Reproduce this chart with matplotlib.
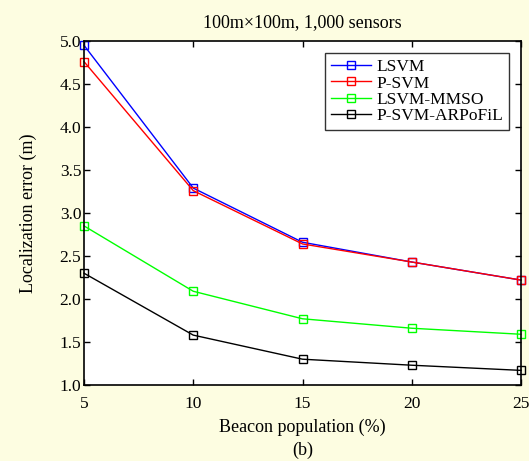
import matplotlib
matplotlib.use('Agg')
import matplotlib.pyplot as plt

plt.rcParams['font.family'] = ['Liberation Serif', 'DejaVu Serif']

beacon = [5, 10, 15, 20, 25]
lsvm = [4.95, 3.29, 2.66, 2.43, 2.22]
psvm = [4.76, 3.26, 2.64, 2.43, 2.22]
lsvm_mmso = [2.85, 2.09, 1.77, 1.66, 1.59]
psvm_arpofil = [2.30, 1.58, 1.30, 1.23, 1.17]

labels = ['LSVM', 'P-SVM', 'LSVM-MMSO', 'P-SVM-ARPoFiL']
colors = ['#0000ff', '#ff0000', '#00ff00', '#000000']
series = [lsvm, psvm, lsvm_mmso, psvm_arpofil]

bg = '#fdfde1'
fig = plt.figure(figsize=(5.29, 4.61), dpi=100, facecolor=bg)
ax = fig.add_axes([84/529, 1 - 385/461, (521 - 84)/529, (385 - 41)/461])

for vals, c, lab in zip(series, colors, labels):
    ax.plot(beacon, vals, color=c, lw=1.0, marker='s', markersize=6,
            markerfacecolor='none', markeredgecolor=c, markeredgewidth=1.0,
            label=lab, clip_on=False)

ax.set_xlim(5, 25)
ax.set_ylim(1.0, 5.0)
ax.set_xticks(beacon)
ax.set_yticks([1.0, 1.5, 2.0, 2.5, 3.0, 3.5, 4.0, 4.5, 5.0])
ax.set_yticklabels(['1.0', '1.5', '2.0', '2.5', '3.0', '3.5', '4.0', '4.5', '5.0'])
ax.tick_params(direction='in', top=True, right=True, labelsize=12.5, length=4, width=1)
ax.tick_params(axis='x', pad=8)
ax.tick_params(axis='y', pad=2)
for s in ax.spines.values():
    s.set_linewidth(1.2)

ax.set_xlabel('Beacon population (%)\n(b)', fontsize=13, linespacing=1.4, labelpad=5)
ax.set_ylabel('Localization error (m)', fontsize=13, labelpad=16)
ax.set_title('100m\u00d7100m, 1,000 sensors', fontsize=13, pad=10)

leg = ax.legend(loc='upper right', fontsize=12.5, frameon=True, fancybox=False,
                edgecolor='black', borderpad=0.35, labelspacing=0.0,
                handlelength=2.3, handletextpad=0.3, borderaxespad=0.7)
leg.get_frame().set_linewidth(1.0)

fig.savefig('out.png', dpi=100, facecolor=bg)
